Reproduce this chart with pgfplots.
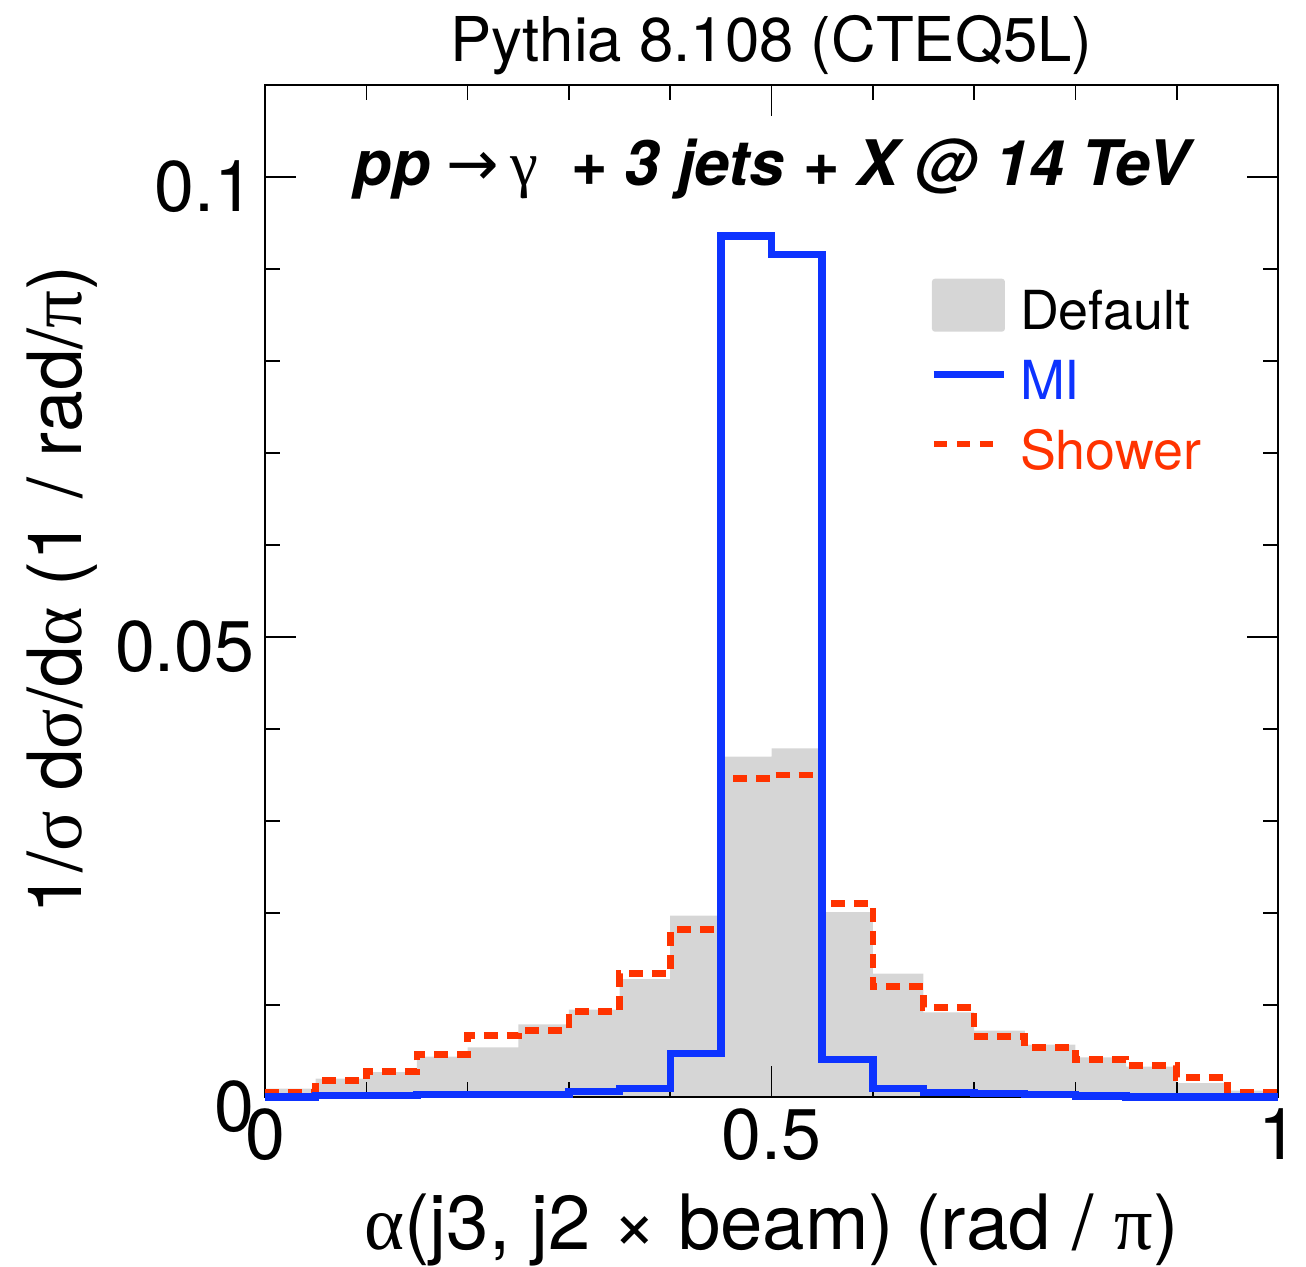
\documentclass[border=0pt]{standalone}
\usepackage{fontspec}
\setmainfont{TeX Gyre Heros}
\newfontfamily\gr{Liberation Serif}
\newfontfamily\dv{DejaVu Sans}
\usepackage{pgfplots}
\usepackage{pgfplotstable}
\pgfplotsset{compat=1.18}
\definecolor{miblue}{RGB}{13,51,255}
\definecolor{shred}{RGB}{255,51,0}
\definecolor{defgray}{RGB}{214,214,214}

\pgfplotstableread{
x    def     mi       sh
0.00 0.0009  0.00000  0.0005
0.05 0.0020  0.00015  0.0018
0.10 0.0027  0.00015  0.0028
0.15 0.0044  0.00030  0.0046
0.20 0.0054  0.00030  0.0067
0.25 0.0079  0.00030  0.0072
0.30 0.0095  0.00060  0.0093
0.35 0.0128  0.00090  0.0134
0.40 0.0197  0.00470  0.0182
0.45 0.0370  0.09360  0.0346
0.50 0.0379  0.09160  0.0350
0.55 0.0201  0.00410  0.0210
0.60 0.0134  0.00090  0.0120
0.65 0.0092  0.00050  0.0097
0.70 0.0072  0.00040  0.0066
0.75 0.0057  0.00030  0.0054
0.80 0.0043  0.00010  0.0041
0.85 0.0033  0.00000  0.0034
0.90 0.0015  0.00000  0.0021
0.95 0.0007  0.00000  0.0005
1.00 0.0007  0.00000  0.0005
}\hdata

\begin{document}
\begin{tikzpicture}
\begin{axis}[
  set layers,
  at={(132.5bp,84bp)}, anchor=south west,
  scale only axis, width=506.5bp, height=506bp,
  xmin=0, xmax=1, ymin=0, ymax=0.11,
  xtick={0,0.5,1}, xticklabels={0,0.5,1},
  ytick={0,0.05,0.1}, yticklabels={0,0.05,0.1},
  minor x tick num=4, minor y tick num=4,
  major tick length=15.5bp, minor tick length=7.5bp,
  tick style={black, line width=0.8bp},
  axis line style={black, line width=1bp},
  ticklabel style={font=\fontsize{36}{40}\selectfont, inner sep=0pt},
  xticklabel style={anchor=north, yshift=-5.5bp},
  yticklabel style={anchor=east, xshift=-5bp, yshift=-5bp},
  clip=false,
  xlabel={{\gr α}(j3, j2 × beam) (rad / {\gr π})},
  xlabel style={font=\fontsize{38.3}{42}\selectfont, at={(axis description cs:0.5,-0.151)}, anchor=base, inner sep=0pt},
  ylabel={1/{\gr σ} d{\gr σ}/d{\gr α} (1 / rad/{\gr π})},
  ylabel style={font=\fontsize{37.6}{42}\selectfont, at={(axis description cs:-0.2004,0.501)}, anchor=center, inner sep=0pt},
  legend cell align=left,
  legend style={at={(axis description cs:0.6565,0.8103)}, anchor=north west,
    draw=none, fill=none, inner sep=0pt, outer sep=0pt, row sep=0pt,
    nodes={inner sep=0pt, font=\fontsize{27}{30}\selectfont},
    /tikz/every odd column/.style={column sep=6.5bp}},
]
\addplot[const plot, fill=defgray, draw=none, on layer=axis background, forget plot]
  table[x=x, y=def]{\hdata} \closedcycle;
\addplot[const plot, shred, line width=3.3bp, dash pattern=on 7bp off 4.5bp, forget plot]
  table[x=x, y=sh]{\hdata};
\addplot[const plot, miblue, line width=3.7bp, forget plot]
  table[x=x, y=mi]{\hdata};

\addlegendimage{legend image code/.code={
  \path[draw=none, fill=none] (0,-17.375bp) rectangle (36.5bp,17.375bp);
  \fill[defgray, draw=none, rounded corners=1.5bp] (0,-10bp) rectangle (36.5bp,16.5bp);}}
\addlegendentry{Default}
\addlegendimage{legend image code/.code={
  \path[draw=none, fill=none] (0,-17.375bp) rectangle (36.5bp,17.375bp);
  \draw[miblue, line width=3.5bp] (0.8bp,3.3bp) -- (35.8bp,3.3bp);}}
\addlegendentry{\textcolor{miblue}{MI}}
\addlegendimage{legend image code/.code={
  \path[draw=none, fill=none] (0,-17.375bp) rectangle (36.5bp,17.375bp);
  \draw[shred, line width=3.3bp, dash pattern=on 6.5bp off 5bp] (1bp,3.3bp) -- (31bp,3.3bp);}}
\addlegendentry{\textcolor{shred}{Shower}}

\node[anchor=base, inner sep=0pt, font=\fontsize{31}{34}\selectfont]
  at (axis description cs:0.5,1.0227) {Pythia 8.108 (CTEQ5L)};
\node[anchor=base, inner sep=0pt, font=\fontsize{31.5}{34}\selectfont\bfseries\itshape]
  at (axis description cs:0.5,0.901) {pp\hspace{8bp}{\mdseries\upshape\dv →}\hspace{6bp}{\mdseries\upshape\gr γ}\hspace{16bp}+ 3 jets + X @ 14 TeV};
\end{axis}
\path (0,0) rectangle (653bp,632.5bp);
\end{tikzpicture}
\end{document}
